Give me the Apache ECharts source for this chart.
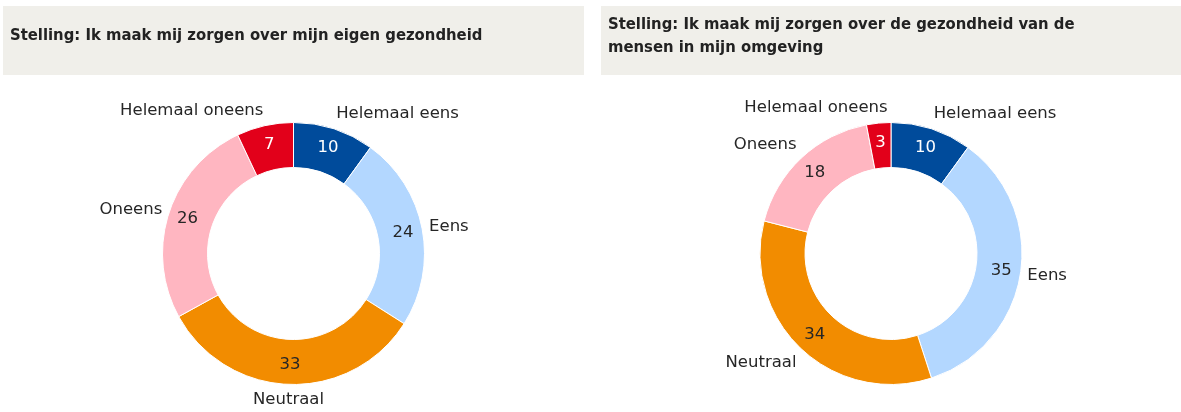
<!DOCTYPE html>
<html>
<head>
<meta charset="utf-8">
<style>
  html, body { margin: 0; padding: 0; background: #ffffff; }
  #chart { width: 1181px; height: 412px; }
</style>
<script src="https://cdn.jsdelivr.net/npm/echarts@6/dist/echarts.min.js"></script>
</head>
<body>
<div id="chart"></div>
<script>
// Answer categories, in clockwise order starting at 12 o'clock
const categories = ['Helemaal eens', 'Eens', 'Neutraal', 'Oneens', 'Helemaal oneens'];
// Percentages per statement
const ownHealth = [10, 24, 33, 26, 7];
const othersHealth = [10, 35, 34, 18, 3];
const titles = [
  'Stelling: Ik maak mij zorgen over mijn eigen gezondheid',
  'Stelling: Ik maak mij zorgen over de gezondheid van de\nmensen in mijn omgeving'
];

const colors = ['#004b9b', '#b3d7ff', '#f28c00', '#ffb6c1', '#e2001a'];
const valueTextColors = ['#ffffff', '#262626', '#262626', '#262626', '#ffffff'];
const LABEL_FONT = 'DejaVu Sans, sans-serif';
const TITLE_FONT = 'DejaVu Sans Condensed, DejaVu Sans, sans-serif';
const RADIUS = [86, 131];
const CENTERS = [[293.5, 253.5], [891, 253.5]];

// Move each outside name label so that its box sits just beyond the
// ring, on the side facing away from the slice's mid-angle anchor point.
function outsideLabelLayout(center) {
  return function (params) {
    const r = params.labelRect;
    const px = params.align === 'right' ? r.x + r.width : r.x;
    const py = r.y + r.height / 2;
    const vx = px - center[0], vy = py - center[1];
    const len = Math.sqrt(vx * vx + vy * vy) || 1;
    const ux = vx / len, uy = vy / len;
    const fx = Math.sign(ux) * Math.min(1, Math.max(0, (Math.abs(ux) - 0.03) * 13.5));
    const fy = Math.sign(uy) * Math.min(1, 2 * uy * uy);
    const gap = 7;
    return {
      x: px + fx * r.width / 2 + ux * gap,
      y: py + fy * r.height / 2 + uy * gap,
      align: 'center',
      verticalAlign: 'middle'
    };
  };
}

function donut(values, center) {
  const base = {
    type: 'pie',
    center,
    radius: RADIUS,
    startAngle: 90,
    clockwise: true,
    silent: true,
    avoidLabelOverlap: false
  };
  return [
    Object.assign({}, base, {
      // coloured ring with the category names outside
      itemStyle: { borderColor: '#ffffff', borderWidth: 1 },
      label: {
        show: true,
        position: 'outside',
        formatter: '{b}',
        color: '#262626',
        fontFamily: LABEL_FONT,
        fontSize: 16.5,
        distanceToLabelLine: 0
      },
      labelLine: { show: false, length: 0, length2: 0 },
      labelLayout: outsideLabelLayout(center),
      data: categories.map((name, i) => ({
        name, value: values[i], itemStyle: { color: colors[i] }
      }))
    }),
    Object.assign({}, base, {
      // transparent overlay carrying the values inside the ring
      itemStyle: { color: 'transparent', borderWidth: 0 },
      label: {
        show: true,
        position: 'inside',
        formatter: '{c}',
        fontFamily: LABEL_FONT,
        fontSize: 16.5
      },
      labelLine: { show: false },
      data: categories.map((name, i) => ({
        name, value: values[i], label: { color: valueTextColors[i] }
      }))
    })
  ];
}

const chart = echarts.init(document.getElementById('chart'), null, { renderer: 'canvas' });
chart.setOption({
  animation: false,
  graphic: [
    { type: 'rect', shape: { x: 3, y: 6, width: 581, height: 69 }, style: { fill: '#f0efea' } },
    { type: 'rect', shape: { x: 601, y: 6, width: 580, height: 69 }, style: { fill: '#f0efea' } }
  ],
  title: [
    {
      text: titles[0], left: 10, top: 27,
      padding: 0,
      textStyle: { fontFamily: TITLE_FONT, fontWeight: 'bold', fontSize: 16.5, color: '#222222' }
    },
    {
      text: titles[1], left: 608, top: 13,
      padding: 0,
      textStyle: { fontFamily: TITLE_FONT, fontWeight: 'bold', fontSize: 16.5, lineHeight: 23, color: '#222222' }
    }
  ],
  series: [
    ...donut(ownHealth, CENTERS[0]),
    ...donut(othersHealth, CENTERS[1])
  ]
});
</script>
</body>
</html>
